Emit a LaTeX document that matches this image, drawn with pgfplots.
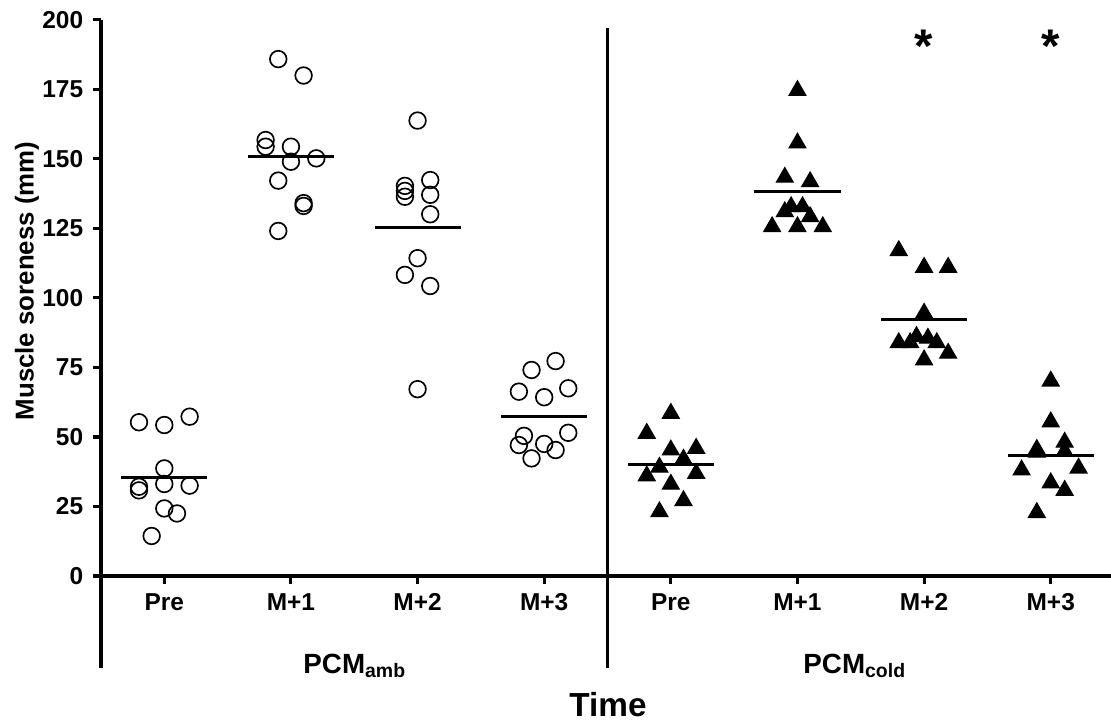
\documentclass[border=0pt]{standalone}
\usepackage{fontspec}
\setmainfont{Liberation Sans}
\usepackage{pgfplots}
\pgfplotsset{compat=1.18}
% pixel position of the reference -> picture coordinates (axis origin at px 101,576)
\newcommand{\px}[2]{({(#1-101)*0.36pt},{(576-#2)*0.36pt})}

\pgfplotstableread{
x y
-0.2 55.3
0.0 54.3
0.2 57.3
0.0 38.7
0.0 33.1
-0.2 32.1
-0.2 30.8
0.2 32.5
0.0 24.3
0.1 22.5
-0.1 14.4
0.9 185.9
1.1 180.0
0.8 156.8
0.8 154.4
1.0 154.4
1.0 149.0
1.2 150.2
0.9 142.2
1.1 134.1
1.1 133.1
0.9 124.1
2.0 163.8
1.9 140.3
1.9 138.5
1.9 136.4
2.1 142.4
2.1 137.1
2.1 130.1
2.0 114.3
1.9 108.3
2.1 104.3
2.0 67.2
3.09 77.3
2.9 74.1
2.8 66.3
3.0 64.3
3.19 67.5
2.84 50.4
2.8 47.1
3.0 47.5
3.19 51.5
3.09 45.3
2.9 42.3
}\ambdata

\pgfplotstableread{
x y
4.0 58.5
3.81 51.3
4.0 45.3
4.2 45.9
4.1 42.0
3.91 39.1
3.81 36.0
4.2 36.9
4.0 33.0
4.1 27.1
3.91 23.1
5.0 174.6
5.0 155.7
4.9 143.4
5.1 141.8
4.9 131.0
4.95 132.8
5.04 132.8
5.1 129.2
4.8 125.6
5.0 125.6
5.2 125.6
5.8 117.0
6.0 111.0
6.19 111.0
6.0 94.5
5.8 83.9
5.89 83.9
5.94 86.1
6.03 85.5
6.1 83.9
6.0 77.7
6.19 80.1
7.0 70.1
7.0 55.4
6.89 45.5
7.11 48.1
7.11 44.8
6.77 38.1
7.22 38.8
7.0 33.5
7.11 30.8
6.89 22.8
6.89 44.5
}\colddata

\begin{document}
\begin{tikzpicture}
\begin{axis}[
  at={(0,0)}, anchor=south west,
  scale only axis, width=364.7pt, height=200.2pt,
  xmin=-0.5, xmax=7.5, ymin=0, ymax=200,
  axis lines=left, axis line style={-, line width=1.1pt},
  clip=false,
  xtick={0,...,7}, xticklabels={Pre,M+1,M+2,M+3,Pre,M+1,M+2,M+3},
  ytick={0,25,...,200},
  tick align=outside, major tick length=2.9pt,
  tick style={line width=1.1pt, black},
  tick label style={font=\bfseries\fontsize{8.8}{10}\selectfont},
  /pgf/number format/assume math mode=true,
]
  \addplot[only marks, mark=o, mark size=3pt, mark options={line width=0.6pt}] table[x=x,y=y] {\ambdata};
  \addplot[only marks, mark=triangle*, mark size=3.5pt, black] table[x=x,y=y] {\colddata};
  % group means
  \addplot[line width=1.1pt, no markers, unbounded coords=jump] coordinates {
    (-0.34,35.5) (0.34,35.5) (0,nan)
    (0.66,151.0) (1.34,151.0) (1,nan)
    (1.66,125.5) (2.34,125.5) (2,nan)
    (2.66,57.5) (3.34,57.5) (3,nan)
    (3.66,40.0) (4.34,40.0) (4,nan)
    (4.66,138.3) (5.34,138.3) (5,nan)
    (5.66,92.3) (6.34,92.3) (6,nan)
    (6.66,43.3) (7.34,43.3)
  };
  \node[font=\bfseries\fontsize{17}{17}\selectfont] at (axis cs:6,190.5) {*};
  \node[font=\bfseries\fontsize{17}{17}\selectfont] at (axis cs:7,190.5) {*};
  \draw[line width=1.1pt] (axis cs:3.5,197) -- (axis cs:3.5,-33);
  \draw[line width=1.1pt] (axis cs:-0.5,0) -- (axis cs:-0.5,-33);
\end{axis}
\node[rotate=90, font=\bfseries\fontsize{9.3}{11}\selectfont] at \px{27}{281} {Muscle soreness (mm)};
\node[font=\bfseries\fontsize{10}{12}\selectfont] at \px{355}{666} {PCM\textsubscript{amb}};
\node[font=\bfseries\fontsize{10}{12}\selectfont] at \px{855}{666} {PCM\textsubscript{cold}};
\node[font=\bfseries\fontsize{12}{14}\selectfont] at \px{608}{705} {Time};
\pgfresetboundingbox
\path \px{0}{724} rectangle \px{1111}{0};
\end{tikzpicture}
\end{document}
